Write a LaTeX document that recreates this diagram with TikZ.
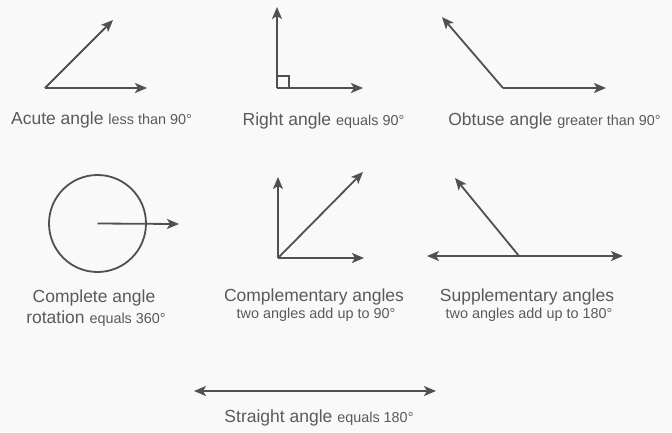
\documentclass[tikz,border=0pt]{standalone}
\usepackage{fontspec}
\setmainfont{Liberation Sans}
\usetikzlibrary{arrows.meta}
\definecolor{ink}{HTML}{505050}
\definecolor{txt}{HTML}{5A5A5A}
\definecolor{paper}{HTML}{F9F9F9}
\tikzset{
  ray/.style={draw=ink, line width=1.8pt, -{Stealth[length=12pt,width=10pt,inset=3pt]}},
  bray/.style={draw=ink, line width=1.8pt, {Stealth[length=12pt,width=10pt,inset=3pt]}-{Stealth[length=12pt,width=10pt,inset=3pt]}},
  plain/.style={draw=ink, line width=1.8pt},
  lbl/.style={text=txt, inner sep=0pt, anchor=base, font=\fontsize{17.5}{20}\selectfont},
}
\newcommand{\sm}[1]{{\fontsize{14.4}{17}\selectfont #1}}
\begin{document}
\begin{tikzpicture}[x=1pt,y=-1pt]
\fill[paper] (0,0) rectangle (672,432);
\useasboundingbox (0,0) rectangle (672,432);
% Acute
\coordinate (av) at (45,88);
\coordinate (ah) at (147,88);
\coordinate (au) at (113,20);
\draw[ray] (av) -- (ah);
\draw[ray] (av) -- (au);
\node[lbl] (acute) at (101.5,124) {Acute angle \sm{less than 90°}};
% Right
\coordinate (rv) at (277,88);
\coordinate (rh) at (363,88);
\coordinate (ru) at (277,7);
\coordinate (rs) at (289,76);
\draw[ray] (rv) -- (rh);
\draw[ray] (rv) -- (ru);
\draw[draw=ink, line width=1.5pt] (rv |- rs) -| (rs |- rv);
\node[lbl] (right) at (323.5,125) {Right angle \sm{equals 90°}};
% Obtuse
\coordinate (ov) at (503,88);
\coordinate (oh) at (606,88);
\coordinate (ou) at (442,17);
\draw[ray] (ov) -- (oh);
\draw[ray] (ov) -- (ou);
\node[lbl] (obtuse) at (554.5,125) {Obtuse angle \sm{greater than 90°}};
% Complete
\coordinate (cc) at (97.5,223.5);
\coordinate (ch) at (179,224);
\draw[plain] (cc) circle[radius=48.5];
\draw[ray] (cc) -- (ch);
\node[lbl] (compl1) at (94,302) {Complete angle};
\node[lbl] (compl2) at (96,323) {rotation \sm{equals 360°}};
% Complementary
\coordinate (mv) at (278,258);
\coordinate (mh) at (364,258);
\coordinate (mu) at (278,177);
\coordinate (md) at (363,172);
\draw[ray] (mv) -- (mh);
\draw[ray] (mv) -- (mu);
\draw[ray] (mv) -- (md);
\node[lbl] (cmp1) at (314,301) {Complementary angles};
\node[lbl] (cmp2) at (316,318) {\sm{two angles add up to 90°}};
% Supplementary
\coordinate (sl) at (427,256);
\coordinate (sr) at (623,256);
\coordinate (sv) at (519,256);
\coordinate (su) at (455,178);
\draw[bray] (sl) -- (sr);
\draw[ray] (sv) -- (su);
\node[lbl] (sup1) at (527,301) {Supplementary angles};
\node[lbl] (sup2) at (529,318) {\sm{two angles add up to 180°}};
% Straight
\coordinate (tl) at (194,391);
\coordinate (tr) at (436,391);
\draw[bray] (tl) -- (tr);
\node[lbl] (straight) at (319,422) {Straight angle \sm{equals 180°}};
\end{tikzpicture}
\end{document}
